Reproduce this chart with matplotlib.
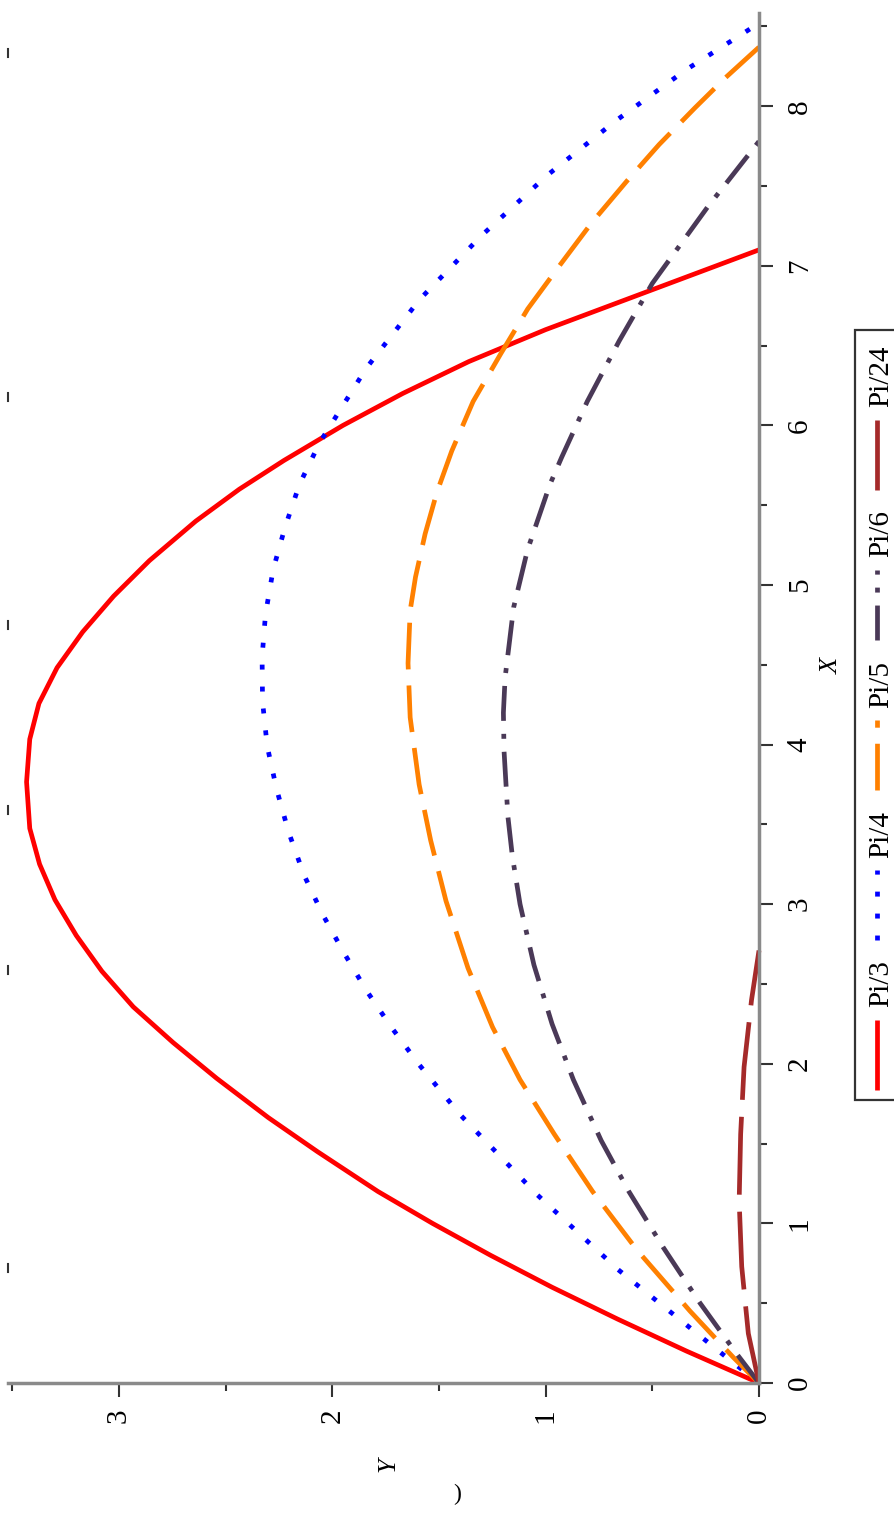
import matplotlib
matplotlib.use("Agg")
import matplotlib.pyplot as plt
from matplotlib.patches import Rectangle

plt.rcParams['font.family'] = ['Liberation Serif', 'DejaVu Serif']

# trajectories: X = distance, Y = height
labels = ["Pi/3", "Pi/4", "Pi/5", "Pi/6", "Pi/24"]

x_pi3 = [0, 0.2, 0.4, 0.6, 0.8, 1.0, 1.2, 1.45, 1.663, 1.909, 2.133, 2.357, 2.58,
         2.804, 3.028, 3.251, 3.475, 3.766, 4.034, 4.258, 4.482, 4.706, 4.93, 5.153,
         5.40, 5.60, 5.78, 6.00, 6.20, 6.40, 6.60, 6.80, 7.00, 7.10]
y_pi3 = [0, 0.34, 0.662, 0.97, 1.258, 1.53, 1.786, 2.07, 2.30, 2.542, 2.746, 2.933, 3.08,
         3.20, 3.30, 3.372, 3.418, 3.433, 3.418, 3.375, 3.29, 3.17, 3.025, 2.857,
         2.64, 2.436, 2.227, 1.95, 1.67, 1.36, 1.00, 0.60, 0.20, 0]

x_pi4 = [0, 0.18, 0.71, 1.18, 1.68, 1.998, 2.227, 2.457, 2.692, 2.938, 3.184, 3.453,
         3.72, 3.99, 4.27, 4.549, 4.818, 5.098, 5.36, 5.63, 5.89, 6.36, 6.79, 7.19,
         7.57, 7.91, 8.23, 8.46, 8.52]
y_pi4 = [0, 0.17, 0.66, 1.04, 1.40, 1.595, 1.722, 1.839, 1.944, 2.046, 2.133, 2.205,
         2.261, 2.305, 2.327, 2.329, 2.313, 2.277, 2.222, 2.154, 2.06, 1.84, 1.59, 1.30,
         0.99, 0.67, 0.34, 0.07, 0]

x_pi5 = [0, 0.16, 0.45, 0.83, 1.2, 1.56, 1.9, 2.23, 2.6, 3.02, 3.40, 3.75, 4.17, 4.51,
         4.84, 5.05, 5.32, 5.58, 5.84, 6.15, 6.45, 6.73, 7.01, 7.27, 7.53, 7.76, 7.99,
         8.18, 8.37]
y_pi5 = [0, 0.12, 0.323, 0.57, 0.78, 0.96, 1.12, 1.249, 1.364, 1.467, 1.539, 1.593, 1.635,
         1.645, 1.635, 1.61, 1.565, 1.51, 1.44, 1.34, 1.21, 1.084, 0.93, 0.784, 0.62,
         0.468, 0.30, 0.156, 0]

x_pi6 = [0, 0.18, 0.5, 0.85, 1.2, 1.52, 1.9, 2.25, 2.62, 3.0, 3.3, 3.55, 3.96, 4.2,
         4.42, 4.86, 5.22, 5.63, 5.80, 6.15, 6.53, 6.89, 7.37, 7.72, 7.78]
y_pi6 = [0, 0.103, 0.276, 0.449, 0.61, 0.74, 0.87, 0.97, 1.055, 1.12, 1.156, 1.177, 1.195,
         1.198, 1.19, 1.15, 1.085, 0.98, 0.925, 0.805, 0.655, 0.50, 0.24, 0.035, 0]

x_pi24 = [0, 0.31, 0.73, 1.14, 1.56, 1.98, 2.40, 2.71]
y_pi24 = [0, 0.05, 0.081, 0.093, 0.086, 0.07, 0.035, 0]

x_ticks = list(range(9))
y_ticks = [0, 1, 2, 3]

colors = ['#ff0000', '#0000ff', '#ff8000', '#4a3957', '#a52a2a']
styles = ['-', (0, (1.05, 3.6)), (0, (9.9, 3.4)), (0, (7.4, 2.75, 1.05, 2.75)), (0, (16.5, 3.6))]
LW = 3.4

W, H = 894, 1517
fig = plt.figure(figsize=(W / 100, H / 100), dpi=100)

# the whole chart is turned 90 degrees: X runs up the page, Y runs to the left
ax = fig.add_axes([8 / W, 1 - 1383 / H, (759 - 8) / W, (1383 - 13) / H])
ax.set_xlim(3.52, 0)
ax.set_ylim(0, 8.584)

series = [(x_pi3, y_pi3), (x_pi4, y_pi4), (x_pi5, y_pi5), (x_pi6, y_pi6), (x_pi24, y_pi24)]
for (xs, ys), c, ls in zip(series, colors, styles):
    ax.plot(ys, xs, color=c, linestyle=ls, lw=LW, clip_on=False,
            dash_capstyle='butt', solid_capstyle='butt', solid_joinstyle='round')

for s in ['left', 'top']:
    ax.spines[s].set_visible(False)
for s in ['right', 'bottom']:
    ax.spines[s].set_color('#8a8a8a')
    ax.spines[s].set_linewidth(2.5)

ax.yaxis.tick_right()
ax.xaxis.tick_bottom()
ax.set_xticks(y_ticks)
ax.set_xticks([t + 0.5 for t in y_ticks], minor=True)
ax.set_yticks(x_ticks)
ax.set_yticks([t + 0.5 for t in x_ticks], minor=True)
ax.tick_params(which='major', direction='out', length=10, width=1.5, color='#333333',
               labelsize=21, labelrotation=90)
ax.tick_params(which='minor', direction='out', length=5.5, width=1.5, color='#333333')
ax.tick_params(axis='x', pad=8.5)
ax.tick_params(axis='y', pad=10)
for lbl in ax.get_yticklabels():
    lbl.set_va('center')
ax.patch.set_alpha(0)

# overlay in pixel units for labels and the legend
ov = fig.add_axes([0, 0, 1, 1])
ov.set_xlim(0, W)
ov.set_ylim(H, 0)
ov.axis('off')
ov.patch.set_alpha(0)

ov.text(832, 666, 'X', rotation=90, style='italic', fontsize=19, ha='center', va='center')
ov.text(388, 1465, 'Y', rotation=90, style='italic', fontsize=19, ha='center', va='center')
fig.text(457 / W, 1 - 1494 / H, ')', fontsize=17, ha='center', va='center')

for my in [53, 397, 625, 810, 970, 1268]:
    ov.plot([8, 8], [my - 4, my + 4], color='#333333', lw=1.5)

ov.add_patch(Rectangle((855, 330), 60, 770, facecolor='white', edgecolor='#333333',
                       lw=1.6, clip_on=False))
handle_bottoms = [1090, 940, 790, 640, 490]
text_centers = [984, 834, 684, 534, 376]
for lab, c, ls, hb, tc in zip(labels, colors, styles, handle_bottoms, text_centers):
    ov.plot([877, 877], [hb, hb - 70], color=c, linestyle=ls, lw=LW,
            dash_capstyle='butt', solid_capstyle='butt')
    ov.text(881, tc, lab, rotation=90, fontsize=21, ha='center', va='center')

fig.savefig('out.png', dpi=100)
